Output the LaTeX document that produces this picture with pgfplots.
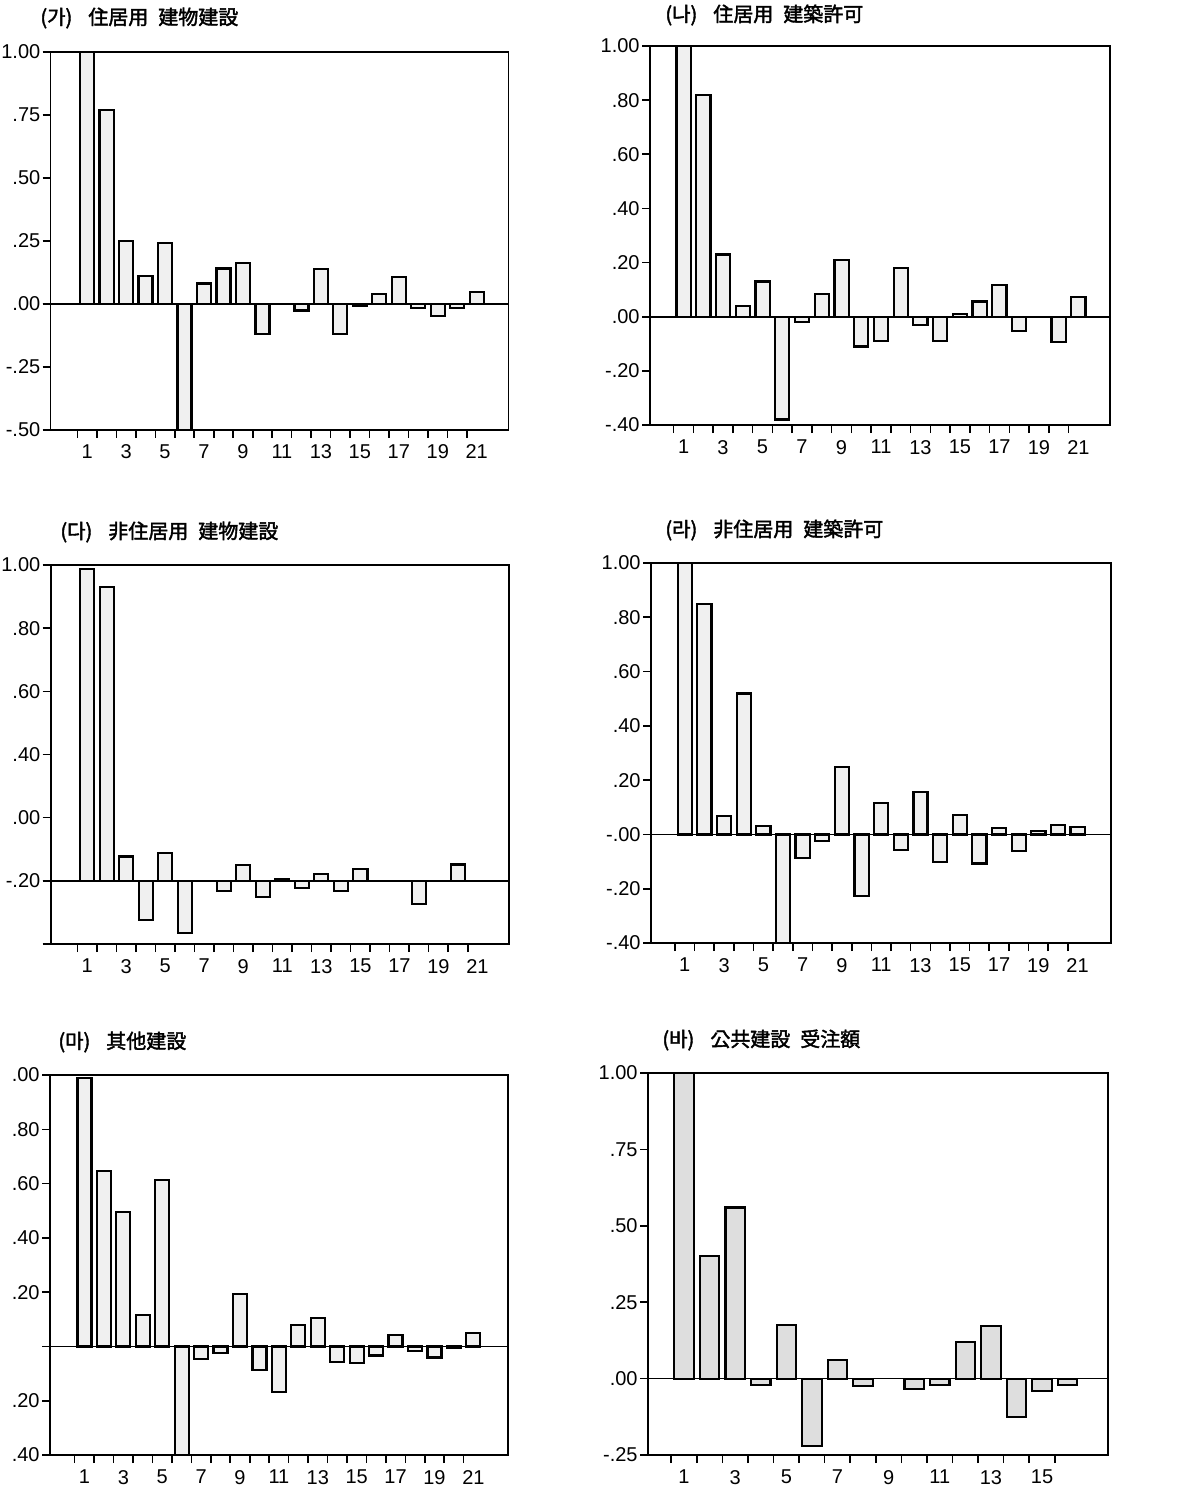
\documentclass[border=0pt]{standalone}
\usepackage{fontspec}
\setmainfont{Liberation Sans}
\newfontfamily\cjk[FakeBold=2]{Noto Sans CJK KR}
\usepackage{pgfplots}
\pgfplotsset{compat=1.18}
\usepackage{pgfplotstable}

\pgfplotstableread{
lag v
1 1.00
2 0.77
3 0.25
4 0.11
5 0.24
6 -0.50
7 0.08
8 0.14
9 0.16
10 -0.12
12 -0.027
13 0.137
14 -0.121
15 -0.008
16 0.039
17 0.105
18 -0.017
19 -0.049
20 -0.017
21 0.045
}\dataA
\pgfplotstableread{
lag v
1 1.00
2 0.82
3 0.23
4 0.04
5 0.13
6 -0.38
7 -0.02
8 0.085
9 0.21
10 -0.11
11 -0.09
12 0.18
13 -0.03
14 -0.09
15 0.01
16 0.056
17 0.116
18 -0.053
20 -0.093
21 0.074
}\dataB
\pgfplotstableread{
lag v
1 0.987
2 0.931
3 0.077
4 -0.125
5 0.088
6 -0.164
8 -0.033
9 0.051
10 -0.052
11 0.006
12 -0.023
13 0.022
14 -0.032
15 0.038
18 -0.073
20 0.052
}\dataC
\pgfplotstableread{
lag v
1 1.00
2 0.848
3 0.067
4 0.519
5 0.031
6 -0.40
7 -0.088
8 -0.025
9 0.249
10 -0.226
11 0.117
12 -0.058
13 0.157
14 -0.103
15 0.071
16 -0.107
17 0.025
18 -0.06
19 0.012
20 0.034
21 0.028
}\dataD
\pgfplotstableread{
lag v
1 0.99
2 0.645
3 0.495
4 0.116
5 0.612
6 -0.40
7 -0.045
8 -0.023
9 0.193
10 -0.086
11 -0.169
12 0.079
13 0.106
14 -0.056
15 -0.06
16 -0.033
17 0.041
18 -0.018
19 -0.041
20 -0.005
21 0.051
}\dataE
\pgfplotstableread{
lag v
1 1.00
2 0.40
3 0.56
4 -0.02
5 0.175
6 -0.22
7 0.06
8 -0.025
10 -0.035
11 -0.02
12 0.12
13 0.173
14 -0.125
15 -0.04
16 -0.02
}\dataF

\pgfplotsset{acf/.style={
  scale only axis,
  anchor=north west,
  axis line style={line width=0.8pt},
  tick align=outside, tick pos=left,
  major tick length=4pt,
  tick style={black, line width=0.8pt},
  xticklabels={},
  ticklabel style={font=\fontsize{10}{11}\selectfont},
  yticklabel style={inner sep=1pt},
  extra x tick style={major tick length=0pt, xticklabel style={yshift=-4pt}},
  extra y ticks={0}, extra y tick labels={},
  extra y tick style={grid=major, major grid style={black,line width=0.8pt}},
  ybar, bar width=0.72,
},
acfbar/.style={draw=black, fill=black!6, line width=1.1pt}}

\begin{document}
\begin{tikzpicture}
\useasboundingbox (0,0) rectangle (597.5pt,-745pt);

% (ga)
\begin{axis}[acf, at={(25.35pt,-25.85pt)}, width=229pt, height=189pt,
  xmin=-0.87, xmax=22.64, ymin=-0.5, ymax=1.0,
  xtick={0.5,1.5,...,20.5},
  extra x ticks={1,3,5,7,9,11,13,15,17,19,21},
  extra x tick labels={1,3,5,7,9,11,13,15,17,19,21},
  ytick={-0.5,-0.25,0,0.25,0.5,0.75,1.0},
  yticklabels={-.50,-.25,.00,.25,.50,.75,1.00}]
\addplot[acfbar] table[x=lag,y=v]{\dataA};
\end{axis}

% (na)
\begin{axis}[acf, at={(325pt,-23pt)}, width=230pt, height=189.5pt,
  xmin=-0.7, xmax=22.6, ymin=-0.4, ymax=1.0,
  xtick={0.5,1.5,...,20.5},
  extra x ticks={1,3,5,7,9,11,13,15,17,19,21},
  extra x tick labels={1,3,5,7,9,11,13,15,17,19,21},
  ytick={-0.4,-0.2,0,0.2,0.4,0.6,0.8,1.0},
  yticklabels={-.40,-.20,.00,.20,.40,.60,.80,1.00}]
\addplot[acfbar] table[x=lag,y=v]{\dataB};
\end{axis}

% (da)
\begin{axis}[acf, at={(25.35pt,-282.5pt)}, width=229pt, height=189.5pt,
  xmin=-0.87, xmax=22.6, ymin=-0.2, ymax=1.0,
  xtick={0.5,1.5,...,20.5},
  extra x ticks={1,3,5,7,9,11,13,15,17,19,21},
  extra x tick labels={1,3,5,7,9,11,13,15,17,19,21},
  ytick={-0.2,0,0.2,0.4,0.6,0.8,1.0},
  yticklabels={,-.20,.00,.40,.60,.80,1.00}]
\addplot[acfbar] table[x=lag,y=v]{\dataC};
\end{axis}

% (ra)
\begin{axis}[acf, at={(325.5pt,-281.5pt)}, width=230pt, height=190pt,
  xmin=-0.72, xmax=22.7, ymin=-0.4, ymax=1.0,
  xtick={0.5,1.5,...,20.5},
  extra x ticks={1,3,5,7,9,11,13,15,17,19,21},
  extra x tick labels={1,3,5,7,9,11,13,15,17,19,21},
  ytick={-0.4,-0.2,0,0.2,0.4,0.6,0.8,1.0},
  yticklabels={-.40,-.20,-.00,.20,.40,.60,.80,1.00}]
\addplot[acfbar] table[x=lag,y=v]{\dataD};
\end{axis}

% (ma)
\begin{axis}[acf, at={(25pt,-537.5pt)}, width=229pt, height=190pt,
  xmin=-0.77, xmax=22.78, ymin=-0.4, ymax=1.0,
  xtick={0.5,1.5,...,20.5},
  extra x ticks={1,3,5,7,9,11,13,15,17,19,21},
  extra x tick labels={1,3,5,7,9,11,13,15,17,19,21},
  ytick={-0.4,-0.2,0,0.2,0.4,0.6,0.8,1.0},
  yticklabels={.40,.20,,.20,.40,.60,.80,.00}]
\addplot[acfbar] table[x=lag,y=v]{\dataE};
\end{axis}

% (ba)
\begin{axis}[acf, at={(324pt,-536.5pt)}, width=230pt, height=191pt,
  xmin=-0.41, xmax=17.58, ymin=-0.25, ymax=1.0,
  xtick={0.5,1.5,...,15.5},
  extra x ticks={1,3,5,7,9,11,13,15},
  extra x tick labels={1,3,5,7,9,11,13,15},
  ytick={-0.25,0,0.25,0.5,0.75,1.0},
  yticklabels={-.25,.00,.25,.50,.75,1.00},
  bar width=0.76]
\addplot[acfbar, fill=black!13] table[x=lag,y=v]{\dataF};
\end{axis}

\begin{scope}[every node/.style={anchor=west, inner sep=0pt, font=\cjk\fontsize{10}{12}\selectfont}]
\node at (20pt,-9pt) {(가)\hspace{0.8em}住居用\hspace{0.5em}建物建設};
\node at (332.5pt,-7.5pt) {(나)\hspace{0.8em}住居用\hspace{0.5em}建築許可};
\node at (30pt,-266pt) {(다)\hspace{0.8em}非住居用\hspace{0.5em}建物建設};
\node at (332.5pt,-265pt) {(라)\hspace{0.8em}非住居用\hspace{0.5em}建築許可};
\node at (29pt,-521pt) {(마)\hspace{0.8em}其他建設};
\node at (331pt,-520pt) {(바)\hspace{0.8em}公共建設\hspace{0.5em}受注額};
\end{scope}
\end{tikzpicture}
\end{document}
